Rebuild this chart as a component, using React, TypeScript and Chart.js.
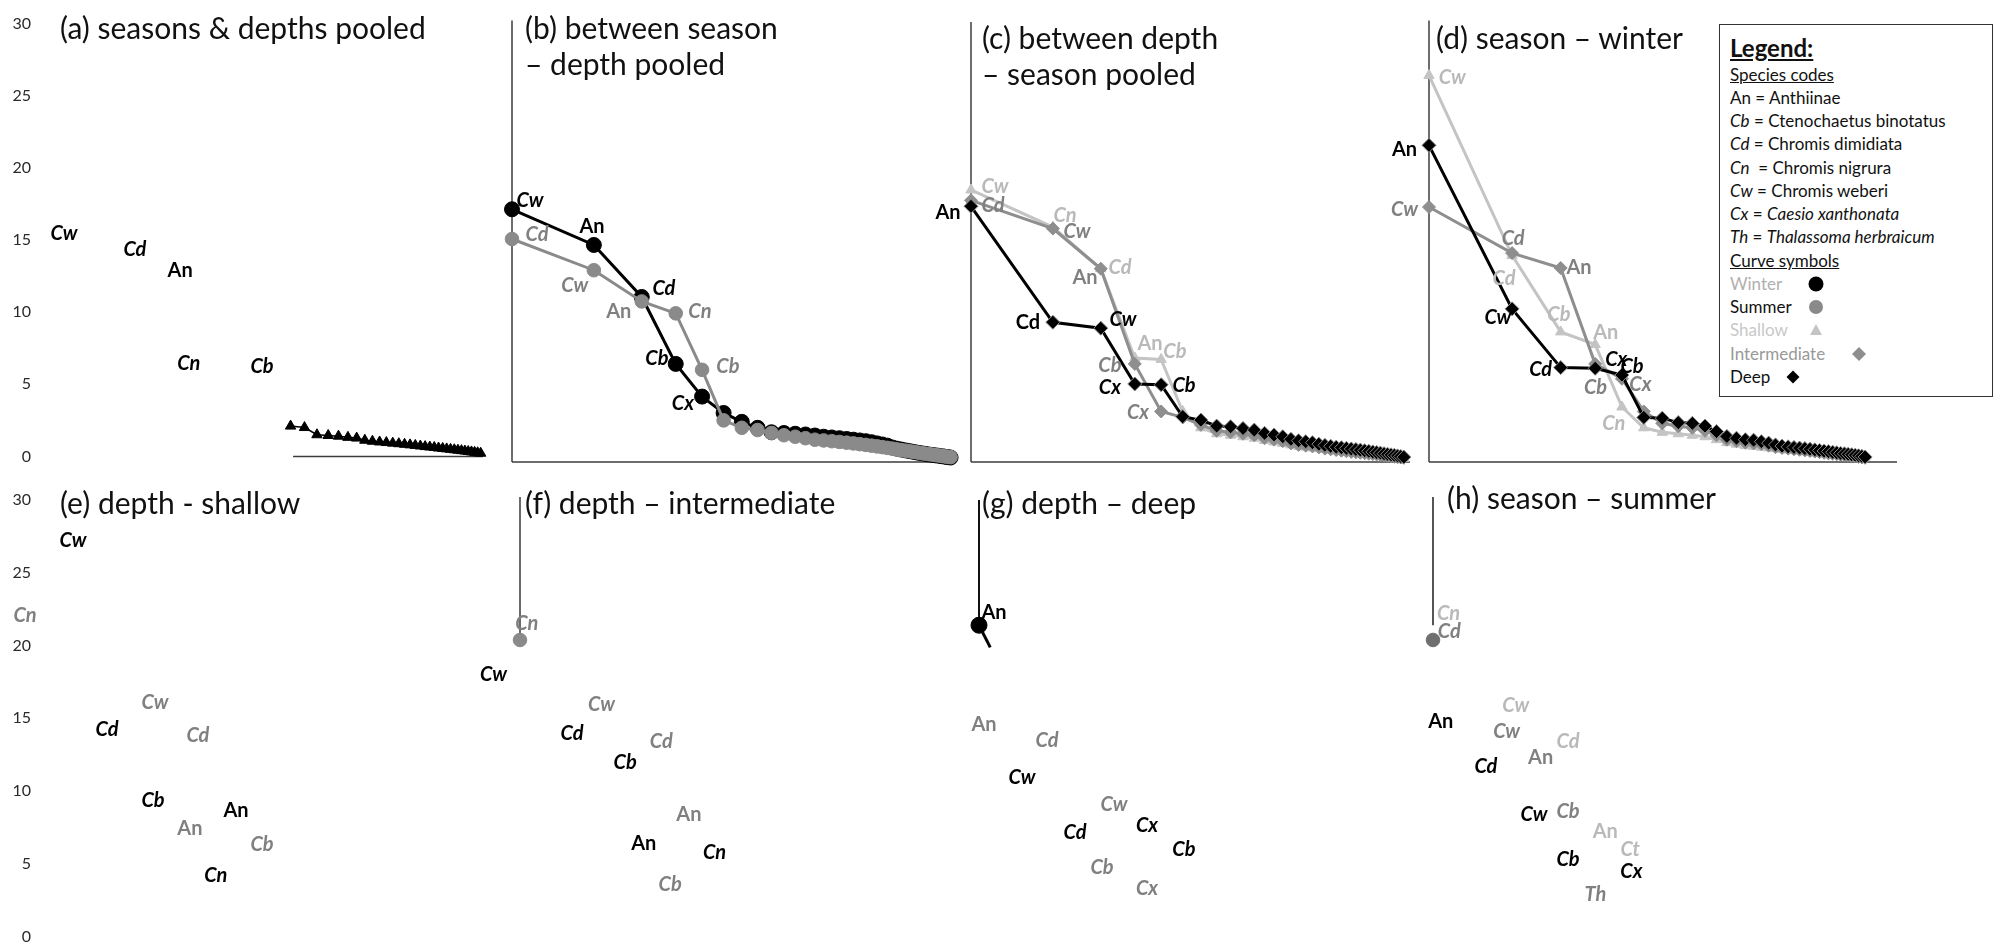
import React, { useEffect, useRef } from 'react';
import { Chart, registerables } from 'chart.js';

Chart.register(...registerables);

// ---------------- DATA (rank-abundance, % relative abundance by species rank) ----------------
const Y_TICKS_MAX = 30;

// (a) seasons & depths pooled — first ranks are not visible in the figure
const POOLED_A = [null, null, null, null, null, null, null, 2.1, 2.0, 1.5, 1.45, 1.4, 1.32, 1.27, 1.12, 1.05, 1.0, 0.96, 0.92, 0.88, 0.84, 0.8, 0.76, 0.72, 0.68, 0.65, 0.62, 0.58, 0.55, 0.52, 0.49, 0.46, 0.43, 0.4, 0.37, 0.34, 0.31, 0.28, 0.25, 0.22];

// (b) between season – depth pooled
const WINTER_B = [17.0, 14.6, 11.1, 6.6, 4.4, 3.3, 2.7, 2.3, 2.0, 1.95, 1.9, 1.85, 1.78, 1.7, 1.65, 1.6, 1.55, 1.5, 1.45, 1.4, 1.33, 1.25, 1.18, 1.1, 0.98, 0.9, 0.84, 0.78, 0.73, 0.68, 0.63, 0.59, 0.55, 0.51, 0.48, 0.45, 0.42, 0.39, 0.36, 0.33, 0.3];
const SUMMER_B = [15.0, 12.9, 10.8, 10.0, 6.2, 2.8, 2.3, 2.15, 1.95, 1.8, 1.7, 1.6, 1.5, 1.45, 1.4, 1.35, 1.3, 1.25, 1.2, 1.15, 1.1, 1.05, 1.0, 0.95, 0.9, 0.85, 0.8, 0.76, 0.72, 0.68, 0.64, 0.6, 0.56, 0.53, 0.5, 0.47, 0.44, 0.41, 0.38, 0.35, 0.33];

// (c) between depth – season pooled
const DEEP_C = [17.2, 9.4, 9.0, 5.25, 5.2, 3.05, 2.82, 2.42, 2.37, 2.26, 2.15, 1.93, 1.82, 1.7, 1.53, 1.43, 1.37, 1.3, 1.2, 1.12, 1.06, 1.0, 0.96, 0.92, 0.88, 0.84, 0.8, 0.76, 0.72, 0.68, 0.64, 0.6, 0.56, 0.52, 0.48, 0.45, 0.41, 0.37, 0.33];
const INTER_C = [17.6, 15.7, 13.0, 6.6, 3.4, 3.0, 2.5, 2.1, 2.0, 1.9, 1.8, 1.6, 1.5, 1.4, 1.25, 1.15, 1.1, 1.05, 0.98, 0.9, 0.85, 0.8, 0.76, 0.72, 0.68, 0.65, 0.62, 0.59, 0.56, 0.53, 0.5, 0.47, 0.44, 0.41, 0.38, 0.35, 0.32, 0.3, 0.28];
const SHALLOW_C = [18.3, 15.8, 13.0, 7.0, 6.9, 3.4, 2.3, 1.9, 1.8, 1.7, 1.6, 1.45, 1.35, 1.25, 1.15, 1.05, 1.0, 0.95, 0.9, 0.85, 0.8, 0.76, 0.72, 0.68, 0.64, 0.61, 0.58, 0.55, 0.52, 0.49, 0.46, 0.43, 0.4, 0.37, 0.34, 0.31, 0.28, 0.26, 0.24];

// (d) season – winter
const DEEP_D = [21.3, 10.3, 6.35, 6.3, 5.85, 3.0, 2.95, 2.65, 2.6, 2.42, 2.05, 1.72, 1.6, 1.5, 1.47, 1.37, 1.27, 1.15, 1.07, 1.02, 0.98, 0.94, 0.9, 0.86, 0.82, 0.78, 0.74, 0.7, 0.66, 0.62, 0.58, 0.55, 0.52, 0.49, 0.46, 0.42, 0.38, 0.34];
const INTER_D = [17.15, 14.05, 13.05, 6.6, 5.6, 3.4, 2.6, 2.4, 2.3, 2.1, 1.8, 1.5, 1.4, 1.3, 1.25, 1.2, 1.1, 1.0, 0.95, 0.9, 0.86, 0.82, 0.78, 0.74, 0.7, 0.66, 0.62, 0.58, 0.55, 0.52, 0.49, 0.46, 0.43, 0.4, 0.37, 0.34, 0.31, 0.28];
const SHALLOW_D = [26.0, 13.9, 8.75, 7.9, 3.7, 2.3, 2.0, 1.9, 1.8, 1.7, 1.5, 1.3, 1.2, 1.1, 1.05, 1.0, 0.95, 0.9, 0.85, 0.8, 0.76, 0.72, 0.68, 0.64, 0.6, 0.57, 0.54, 0.51, 0.48, 0.45, 0.42, 0.39, 0.36, 0.33, 0.3, 0.28, 0.26];

// bottom row: only the first points survive in the figure
const SUMMER_F = [20.5];
const G_RANKS = [1, 1.1];
const WINTER_G = [21.5, 20.0];
const SUMMER_H = [20.5];

// species labels: [code, rank, abundance, tone, style]
type Lbl = [string, number, number, string, string];
const LABELS_A: Lbl[] = [
  ['Cw', 1.175, 15.47, 'k', 'bi'], ['Cd', 2.14, 14.32, 'k', 'bi'], ['An', 3.14, 12.91, 'k', 'b'],
  ['Cn', 3.38, 6.46, 'k', 'bi'], ['Cb', 6.28, 6.25, 'k', 'bi'],
];
const LABELS_B: Lbl[] = [
  ['Cw', 1.165, 17.62, 'k', 'bi'], ['An', 1.97, 15.87, 'k', 'b'], ['Cd', 1.236, 15.33, 'm', 'bi'],
  ['Cw', 1.7, 11.84, 'm', 'bi'], ['Cd', 3.62, 11.7, 'k', 'bi'], ['An', 2.47, 10.09, 'm', 'b'],
  ['Cn', 4.91, 10.09, 'm', 'bi'], ['Cb', 3.41, 6.99, 'k', 'bi'], ['Cb', 6.22, 6.39, 'm', 'bi'],
  ['Cx', 4.25, 3.9, 'k', 'bi'],
];
const LABELS_C: Lbl[] = [
  ['Cw', 1.225, 18.56, 'l', 'bi'], ['Cd', 1.205, 17.28, 'm', 'bi'], ['An', 0.823, 16.75, 'k', 'b'],
  ['Cn', 2.216, 16.61, 'l', 'bi'], ['Cw', 2.453, 15.53, 'm', 'bi'], ['Cd', 3.53, 13.05, 'l', 'bi'],
  ['An', 2.625, 12.44, 'm', 'b'], ['Cd', 1.62, 9.35, 'k', 'b'], ['Cw', 3.62, 9.55, 'k', 'bi'],
  ['An', 4.55, 8.0, 'l', 'b'], ['Cb', 5.62, 7.4, 'l', 'bi'], ['Cb', 3.24, 6.52, 'm', 'bi'],
  ['Cx', 3.24, 5.04, 'k', 'bi'], ['Cb', 6.07, 5.11, 'k', 'bi'], ['Cx', 4.11, 3.3, 'm', 'bi'],
];
const LABELS_D: Lbl[] = [
  ['Cw', 1.214, 25.89, 'l', 'bi'], ['An', 0.815, 21.05, 'k', 'b'], ['Cw', 0.815, 16.95, 'm', 'bi'],
  ['Cd', 2.018, 15.0, 'm', 'bi'], ['Cd', 1.87, 12.37, 'l', 'bi'], ['An', 3.496, 13.05, 'm', 'b'],
  ['Cw', 1.776, 9.75, 'k', 'bi'], ['Cb', 2.956, 9.89, 'l', 'bi'], ['An', 4.37, 8.68, 'l', 'b'],
  ['Cd', 2.537, 6.19, 'k', 'bi'], ['Cx', 4.77, 6.86, 'k', 'bi'], ['Cb', 5.44, 6.39, 'k', 'bi'],
  ['Cb', 4.01, 4.98, 'm', 'bi'], ['Cx', 5.83, 5.18, 'm', 'bi'], ['Cn', 4.67, 2.62, 'l', 'bi'],
];
const LABELS_E: Lbl[] = [
  ['Cw', 1.267, 27.22, 'k', 'bi'], ['Cn', 0.844, 22.06, 'm', 'bi'], ['Cw', 2.537, 16.09, 'm', 'bi'],
  ['Cd', 1.69, 14.19, 'k', 'bi'], ['Cd', 3.65, 13.78, 'm', 'bi'], ['Cb', 2.495, 9.37, 'k', 'bi'],
  ['An', 5.04, 8.62, 'k', 'b'], ['An', 3.41, 7.4, 'm', 'b'], ['Cb', 6.28, 6.31, 'm', 'bi'],
  ['Cn', 4.25, 4.21, 'k', 'bi'],
];
const LABELS_F: Lbl[] = [
  ['Cn', 1.061, 21.59, 'm', 'bi'], ['Cw', 0.796, 18.13, 'k', 'bi'], ['Cw', 2.02, 16.09, 'm', 'bi'],
  ['Cd', 1.566, 14.12, 'k', 'bi'], ['Cd', 3.38, 13.58, 'm', 'bi'], ['Cb', 2.475, 12.15, 'k', 'bi'],
  ['An', 4.29, 8.62, 'm', 'b'], ['An', 2.905, 6.65, 'k', 'b'], ['Cn', 5.345, 6.04, 'k', 'bi'],
  ['Cb', 3.65, 3.87, 'm', 'bi'],
];
const LABELS_G: Lbl[] = [
  ['An', 1.135, 22.34, 'k', 'b'], ['An', 1.043, 14.73, 'm', 'b'], ['Cd', 1.778, 13.65, 'm', 'bi'],
  ['Cw', 1.439, 11.13, 'k', 'bi'], ['Cw', 3.135, 9.3, 'm', 'bi'], ['Cd', 2.254, 7.4, 'k', 'bi'],
  ['Cx', 4.147, 7.88, 'k', 'bi'], ['Cb', 5.67, 6.25, 'k', 'bi'], ['Cb', 2.833, 5.02, 'm', 'bi'],
  ['Cx', 4.147, 3.6, 'm', 'bi'],
];
const LABELS_H: Lbl[] = [
  ['Cn', 1.138, 22.27, 'l', 'bi'], ['Cd', 1.145, 21.05, 'm', 'bi'], ['Cw', 1.995, 16.02, 'l', 'bi'],
  ['An', 1.067, 14.94, 'k', 'b'], ['Cw', 1.848, 14.26, 'm', 'bi'], ['Cd', 3.084, 13.58, 'l', 'bi'],
  ['An', 2.454, 12.49, 'm', 'b'], ['Cd', 1.554, 11.88, 'k', 'bi'], ['Cw', 2.322, 8.62, 'k', 'bi'],
  ['Cb', 3.084, 8.83, 'm', 'bi'], ['An', 4.21, 7.47, 'l', 'b'], ['Ct', 5.18, 6.25, 'l', 'bi'],
  ['Cb', 3.084, 5.57, 'k', 'bi'], ['Cx', 5.23, 4.75, 'k', 'bi'], ['Th', 3.877, 3.19, 'm', 'bi'],
];

const SPECIES: [string, string, boolean][] = [
  ['An', 'Anthiinae', false],
  ['Cb', 'Ctenochaetus binotatus', false],
  ['Cd', 'Chromis dimidiata', false],
  ['Cn', 'Chromis nigrura', false],
  ['Cw', 'Chromis weberi', false],
  ['Cx', 'Caesio xanthonata', true],
  ['Th', 'Thalassoma herbraicum', true],
];

// ---------------- STYLE ----------------
const FONT = 'Lato, "Open Sans", sans-serif';
const TONE: Record<string, string> = { k: '#000000', m: '#808080', l: '#b9b9b9' };
const C_SUMMER = '#8a8a8a';
const C_INTER = '#8e8e8e';
const C_SHALLOW = '#c4c4c4';

type SeriesKind = 'pooled' | 'winter' | 'summer' | 'deep' | 'inter' | 'shallow';

function series(values: (number | null)[], kind: SeriesKind, ranks?: number[], radii?: number[]) {
  const data = values.map((v, i) => ({ x: ranks ? ranks[i] : i + 1, y: v }));
  const base: any = { data, clip: false, tension: 0, spanGaps: false };
  switch (kind) {
    case 'pooled':
      return { ...base, borderColor: '#000', backgroundColor: '#000', borderWidth: 1.5, pointStyle: 'triangle', pointRadius: 6, pointBorderWidth: 1 };
    case 'winter':
      return { ...base, borderColor: '#000', backgroundColor: '#000', borderWidth: 3, pointStyle: 'circle', pointRadius: radii || 7.5, pointBorderWidth: 1 };
    case 'summer':
      return { ...base, borderColor: C_SUMMER, backgroundColor: C_SUMMER, borderWidth: 3, pointStyle: 'circle', pointRadius: 6.8, pointBorderWidth: 1 };
    case 'deep':
      return { ...base, borderColor: '#000', backgroundColor: '#000', pointBorderColor: '#8a8a8a', borderWidth: 3, pointStyle: 'rectRot', pointRadius: 7, pointBorderWidth: 1 };
    case 'inter':
      return { ...base, borderColor: C_INTER, backgroundColor: C_INTER, borderWidth: 3, pointStyle: 'rectRot', pointRadius: 6.5, pointBorderWidth: 1 };
    case 'shallow':
      return { ...base, borderColor: C_SHALLOW, backgroundColor: C_SHALLOW, borderWidth: 3, pointStyle: 'triangle', pointRadius: 6, pointBorderWidth: 1 };
  }
}

type Panel = {
  key: string; left: number; top: number; width: number; height: number;
  pad: { left: number; right: number; top: number; bottom: number };
  xMax: number; ticks: boolean; datasets: any[]; labels: Lbl[];
  xLine?: [number, number]; yLine?: [number, number]; axisColor?: string; axisWidth?: number;
};

const PANELS: Panel[] = [
  {
    key: 'a', left: 0, top: 0, width: 500, height: 480, pad: { left: 0, right: 17, top: 16, bottom: 18 },
    xMax: 40.8, ticks: true, labels: LABELS_A, xLine: [8.17, 40.8],
    datasets: [series(POOLED_A, 'pooled')],
  },
  {
    key: 'b', left: 480, top: 0, width: 490, height: 480, pad: { left: 32, right: 18, top: 16, bottom: 18 },
    xMax: 41.5, ticks: false, labels: LABELS_B, xLine: [1, 41.5], yLine: [0, 29.7],
    datasets: [{ ...series(SUMMER_B, 'summer'), order: 0 }, { ...series(WINTER_B, 'winter'), order: 1 }],
  },
  {
    key: 'c', left: 930, top: 0, width: 490, height: 480, pad: { left: 41, right: 10, top: 16, bottom: 18 },
    xMax: 41.1, ticks: false, labels: LABELS_C, xLine: [1, 41.1], yLine: [0, 29.6],
    datasets: [{ ...series(DEEP_C, 'deep'), order: 0 }, { ...series(INTER_C, 'inter'), order: 1 }, { ...series(SHALLOW_C, 'shallow'), order: 2 }],
  },
  {
    key: 'd', left: 1385, top: 0, width: 608, height: 480, pad: { left: 44, right: 96, top: 16, bottom: 18 },
    xMax: 49.6, ticks: false, labels: LABELS_D, xLine: [1, 49.6], yLine: [0, 29.7],
    datasets: [{ ...series(DEEP_D, 'deep'), order: 0 }, { ...series(INTER_D, 'inter'), order: 1 }, { ...series(SHALLOW_D, 'shallow'), order: 2 }],
  },
  {
    key: 'e', left: 0, top: 470, width: 500, height: 490, pad: { left: 0, right: 17, top: 30, bottom: 18 },
    xMax: 40.8, ticks: true, labels: LABELS_E, datasets: [],
  },
  {
    key: 'f', left: 470, top: 470, width: 490, height: 490, pad: { left: 50, right: 0, top: 30, bottom: 18 },
    xMax: 41.5, ticks: false, labels: LABELS_F, yLine: [20.8, 30.2], axisColor: '#6a6a6a', axisWidth: 2,
    datasets: [series(SUMMER_F, 'summer')],
  },
  {
    key: 'g', left: 930, top: 470, width: 490, height: 490, pad: { left: 49, right: 11, top: 30, bottom: 18 },
    xMax: 38.1, ticks: false, labels: LABELS_G, yLine: [21.5, 30], axisColor: '#111', axisWidth: 2,
    datasets: [series(WINTER_G, 'winter', G_RANKS, [8, 0])],
  },
  {
    key: 'h', left: 1385, top: 470, width: 608, height: 490, pad: { left: 48, right: 92, top: 30, bottom: 18 },
    xMax: 49.6, ticks: false, labels: LABELS_H, yLine: [21.5, 30.2], axisColor: '#555', axisWidth: 2,
    datasets: [{ ...series(SUMMER_H, 'summer'), backgroundColor: '#6f6f6f', borderColor: '#6f6f6f' }],
  },
];

function makeAnnotate(p: Panel) {
  return {
    id: 'annotate_' + p.key,
    beforeDatasetsDraw(chart: any) {
      const { ctx, scales } = chart;
      const x = scales.x, y = scales.y;
      ctx.save();
      ctx.strokeStyle = p.axisColor || '#3c3c3c';
      ctx.lineWidth = p.axisWidth || 1.5;
      if (p.xLine) {
        const py = y.getPixelForValue(0);
        ctx.beginPath();
        ctx.moveTo(x.getPixelForValue(p.xLine[0]), py);
        ctx.lineTo(x.getPixelForValue(p.xLine[1]), py);
        ctx.stroke();
      }
      if (p.yLine) {
        const px = x.getPixelForValue(1);
        ctx.beginPath();
        ctx.moveTo(px, y.getPixelForValue(p.yLine[0]));
        ctx.lineTo(px, y.getPixelForValue(p.yLine[1]));
        ctx.stroke();
      }
      ctx.restore();
    },
    afterDatasetsDraw(chart: any) {
      const { ctx, scales } = chart;
      const x = scales.x, y = scales.y;
      ctx.save();
      ctx.textAlign = 'center';
      ctx.textBaseline = 'middle';
      for (const [t, r, v, tone, st] of p.labels) {
        ctx.font = `${st === 'bi' ? 'italic ' : ''}bold 20px ${FONT}`;
        ctx.fillStyle = TONE[tone];
        ctx.fillText(t, x.getPixelForValue(r), y.getPixelForValue(v));
      }
      ctx.restore();
    },
  };
}

function PanelChart({ p }: { p: Panel }) {
  const ref = useRef<HTMLCanvasElement | null>(null);
  useEffect(() => {
    if (!ref.current) return;
    const yScale: any = {
      type: 'linear', min: 0, max: Y_TICKS_MAX, display: p.ticks, bounds: 'data',
      grid: { display: false, drawTicks: false },
      border: { display: false },
      ticks: { stepSize: 5, padding: 14, color: '#2a2a2a', font: { family: FONT, size: 16 } },
    };
    if (p.ticks) yScale.afterFit = (s: any) => { s.width = 45; };
    const chart = new Chart(ref.current, {
      type: 'line',
      data: { datasets: p.datasets },
      options: {
        responsive: false,
        maintainAspectRatio: false,
        animation: false,
        events: [],
        layout: { padding: p.pad },
        plugins: { legend: { display: false }, tooltip: { enabled: false }, title: { display: false } },
        scales: {
          x: { type: 'logarithmic', min: 1, max: p.xMax, display: false, bounds: 'data' },
          y: yScale,
        },
      } as any,
      plugins: [makeAnnotate(p)],
    });
    return () => chart.destroy();
  }, [p]);
  return (
    <canvas ref={ref} width={p.width} height={p.height}
      style={{ position: 'absolute', left: p.left, top: p.top, width: p.width, height: p.height }} />
  );
}

const TITLES: [string, number, number][] = [
  ['(a) seasons & depths pooled', 60, 27],
  ['(b) between season', 525, 27],
  ['– depth pooled', 525, 63],
  ['(c) between depth', 982, 37],
  ['– season pooled', 982, 73],
  ['(d) season – winter', 1436, 37],
  ['(e) depth - shallow', 60, 502],
  ['(f) depth – intermediate', 525, 502],
  ['(g) depth – deep', 982, 502],
  ['(h) season – summer', 1447, 497],
];

function Marker({ kind }: { kind: string }) {
  if (kind === 'winter') return <svg width="18" height="18"><circle cx="9" cy="9" r="7.5" fill="#000" /></svg>;
  if (kind === 'summer') return <svg width="18" height="18"><circle cx="9" cy="9" r="7" fill={C_SUMMER} /></svg>;
  if (kind === 'shallow') return <svg width="16" height="16"><polygon points="8,2 14,13 2,13" fill={C_SHALLOW} /></svg>;
  if (kind === 'inter') return <svg width="18" height="18"><polygon points="9,2 16,9 9,16 2,9" fill={C_INTER} /></svg>;
  return <svg width="16" height="16"><polygon points="8,1.5 14.5,8 8,14.5 1.5,8" fill="#000" /></svg>;
}

// [name, text colour, marker kind, marker centre x inside legend box]
const CURVES: [string, string, string, number][] = [
  ['Winter', '#b0b0b0', 'winter', 96],
  ['Summer', '#111', 'summer', 96],
  ['Shallow', '#c8c8c8', 'shallow', 96],
  ['Intermediate', '#999', 'inter', 139],
  ['Deep', '#111', 'deep', 73],
];

function Legend() {
  const L = 1719, T = 24;
  const row = (cy: number, content: React.ReactNode) => (
    <div style={{ position: 'absolute', left: 10, top: cy - T - 12, lineHeight: '24px', whiteSpace: 'nowrap' }}>{content}</div>
  );
  const rows: React.ReactNode[] = [];
  rows.push(<React.Fragment key="h">{row(47, <span style={{ fontWeight: 700, fontSize: 24, textDecoration: 'underline' }}>Legend:</span>)}</React.Fragment>);
  rows.push(<React.Fragment key="sc">{row(74, <span style={{ textDecoration: 'underline' }}>Species codes</span>)}</React.Fragment>);
  SPECIES.forEach(([code, name, ital], i) => {
    const cy = 97 + i * 23.2;
    const codeNode = code === 'An' ? <span>{code}</span> : <i>{code}</i>;
    const gap = code === 'Cn' ? '\u00a0 = ' : ' = ';
    rows.push(<React.Fragment key={'s' + i}>{row(cy, <>{codeNode}{gap}{ital ? <i>{name}</i> : name}</>)}</React.Fragment>);
  });
  rows.push(<React.Fragment key="cs">{row(260, <span style={{ textDecoration: 'underline' }}>Curve symbols</span>)}</React.Fragment>);
  CURVES.forEach(([name, col, kind, mx], i) => {
    const cy = 283 + i * 23.2;
    rows.push(<React.Fragment key={'c' + i}>{row(cy, <span style={{ color: col }}>{name}</span>)}</React.Fragment>);
    rows.push(
      <div key={'m' + i} style={{ position: 'absolute', left: mx - 9, top: cy - T - 9, width: 18, height: 18, display: 'flex', alignItems: 'center', justifyContent: 'center' }}>
        <Marker kind={kind} />
      </div>
    );
  });
  return (
    <div style={{ position: 'absolute', left: L, top: T, width: 274, height: 373, border: '1.5px solid #333', background: '#fff', fontFamily: FONT, fontSize: 17, color: '#111', boxSizing: 'border-box' }}>
      {rows}
    </div>
  );
}

export default function App() {
  return (
    <div style={{ position: 'fixed', left: 0, top: 0, width: 1993, height: 945, overflow: 'hidden', background: '#fff' }}>
      {PANELS.map((p) => <PanelChart key={p.key} p={p} />)}
      {TITLES.map(([t, x, cy], i) => (
        <div key={i} style={{ position: 'absolute', left: x, top: cy - 18, lineHeight: '36px', fontFamily: FONT, fontSize: 30, color: '#111', whiteSpace: 'nowrap' }}>{t}</div>
      ))}
      <Legend />
    </div>
  );
}
